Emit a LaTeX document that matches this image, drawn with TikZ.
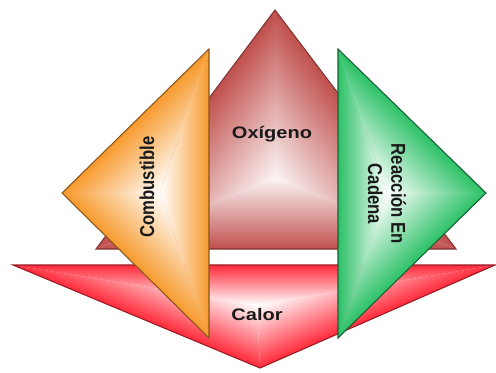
\documentclass[tikz,border=0pt]{standalone}
\usepackage{fontspec}
\setmainfont{Liberation Sans}
\usetikzlibrary{calc}
\definecolor{cmaroon}{HTML}{C0504D}
\definecolor{cred}{HTML}{FF2A3A}
\definecolor{corange}{HTML}{F79A2E}
\definecolor{cgreen}{HTML}{2CC167}
\definecolor{cink}{HTML}{1A1A1A}
\tikzset{
  edge/.style={line width=0.6pt,line join=miter},
  lbl/.style={font=\fontsize{9.5}{11}\selectfont\bfseries,text=cink,align=center,inner sep=0pt},
}
% linear ramp from the centre #1 out to the side #2--#3
\newcommand\shadefacet[5]{%
  \begin{scope}
    \clip (#1) -- (#2) -- (#3) -- cycle;
    \path let \p1=(#1), \p2=($(#2)!(#1)!(#3)$) in
      \pgfextra{\pgfmathsetmacro\tmpang{atan2(\y2-\y1,\x2-\x1)}\xdef\fang{\tmpang}%
                \pgfmathsetmacro\tmplen{veclen(\x2-\x1,\y2-\y1)}\xdef\flen{\tmplen}};
    \begin{scope}[transform canvas={shift={(#1)},rotate=\fang}]
      \shade[left color=#5,right color=#4] (0pt,-300pt) rectangle (\flen pt,300pt);
    \end{scope}
  \end{scope}}
% centre, three corners, outer colour, inner colour
\newcommand\pathgrad[6]{%
  \shadefacet{#1}{#2}{#3}{#5}{#6}\shadefacet{#1}{#3}{#4}{#5}{#6}\shadefacet{#1}{#4}{#2}{#5}{#6}}

\begin{document}
\begin{tikzpicture}[x=0.02cm,y=-0.02cm]
\useasboundingbox (0,0) rectangle (496,372);

% corners (pixels of the sheet, y downwards)
\coordinate (oxA) at (275,10);  \coordinate (oxL) at (96,249);  \coordinate (oxR) at (456,249);  \coordinate (oxC) at (275,178);
\coordinate (caL) at (13,265);  \coordinate (caR) at (495,265); \coordinate (caB) at (260,368);  \coordinate (caC) at (257,305);
\coordinate (coL) at (62,193);  \coordinate (coT) at (209,49);  \coordinate (coB) at (209,338);  \coordinate (coC) at (160,193);
\coordinate (reR) at (486,193); \coordinate (reT) at (338,49);  \coordinate (reB) at (338,338);  \coordinate (reC) at (387,193);

% ================= back: oxigeno / calor =================
\pathgrad{oxC}{oxA}{oxL}{oxR}{cmaroon}{cmaroon!6}
\draw[edge,cmaroon!65!black] (oxA) -- (oxL) -- (oxR) -- cycle;
\pathgrad{caC}{caL}{caR}{caB}{cred}{white}
\draw[edge,cred!60!black] (caL) -- (caR) -- (caB) -- cycle;

% ================= front: combustible / reaccion =================
\pathgrad{coC}{coL}{coT}{coB}{corange}{white}
\draw[edge,corange!55!black] (coL) -- (coT) -- (coB) -- cycle;
\pathgrad{reC}{reR}{reT}{reB}{cgreen}{white}
\draw[edge,cgreen!50!black] (reR) -- (reT) -- (reB) -- cycle;

% labels
\node[lbl,xscale=1.2] (oxi) at (272,134) {Oxígeno};
\node[lbl,xscale=1.2] (cal) at (257,315) {Calor};
\node[lbl,rotate=90,yscale=1.2] (com) at (147,187) {Combustible};
\node[lbl,rotate=-90,yscale=1.2] (rea) at (387,194) {Reacción En\\Cadena};

\end{tikzpicture}
\end{document}
